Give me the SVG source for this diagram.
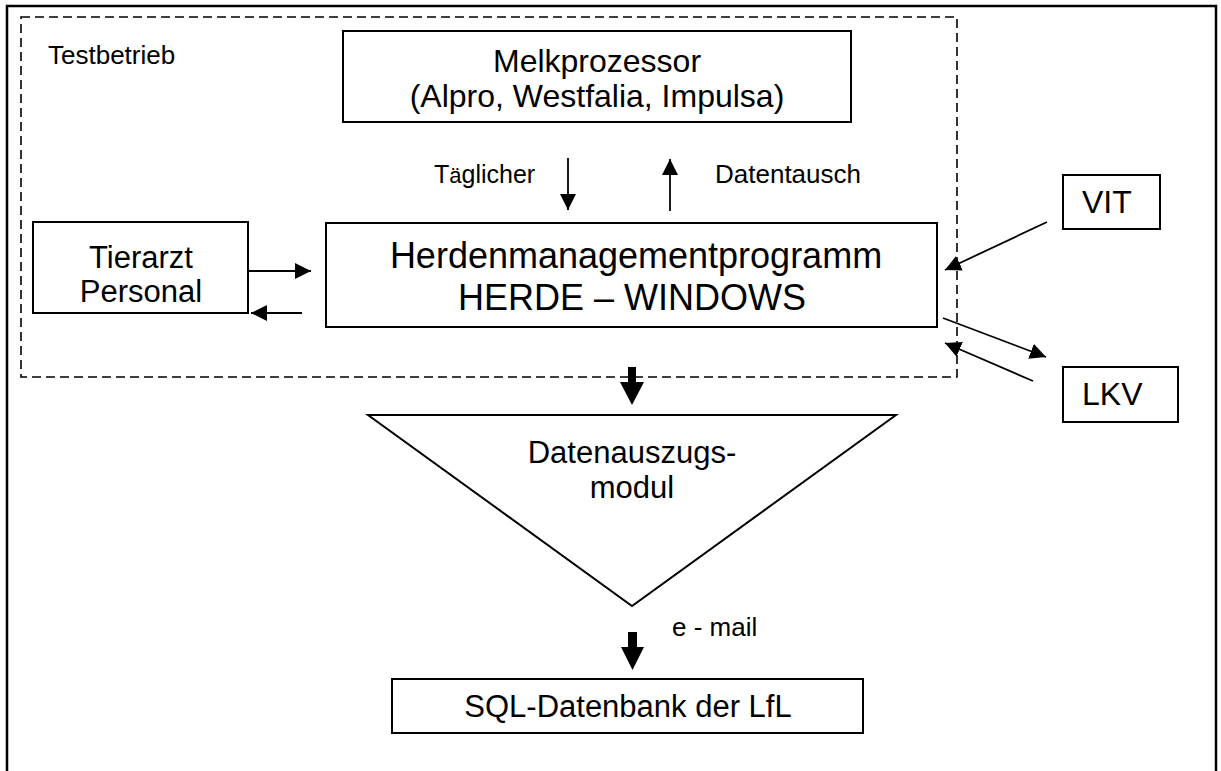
<svg xmlns="http://www.w3.org/2000/svg" width="1221" height="771" viewBox="0 0 1221 771">
  <style>
    .box { fill: #fff; stroke: #000; stroke-width: 2; }
    .frame { fill: none; stroke: #000; stroke-width: 2.5; }
    .zone { fill: none; stroke: #000; stroke-width: 1.6; stroke-dasharray: 9 5; }
    .line { fill: none; stroke: #000; stroke-width: 1.8; marker-end: url(#head); }
    .block { fill: #000; }
    text { font-family: "Liberation Sans", Arial, sans-serif; fill: #000; }
    .big { font-size: 36px; }
    .mid { font-size: 31px; }
    .small { font-size: 26px; }
    .c { text-anchor: middle; }
  </style>
  <defs>
    <marker id="head" viewBox="0 0 16 16" refX="16" refY="8" markerWidth="16" markerHeight="16" markerUnits="userSpaceOnUse" orient="auto">
      <path d="M0,0 L16,8 L0,16 z" fill="#000"/>
    </marker>
  </defs>

  <rect width="1221" height="771" fill="#fff"/>

  <!-- page frame (open at the bottom) -->
  <path class="frame" d="M7,790 V6 H1216 V790"/>

  <!-- farm boundary -->
  <g id="testbetrieb">
    <rect class="zone" x="21" y="17" width="936" height="360"/>
    <text class="small" x="48" y="64">Testbetrieb</text>
  </g>

  <g id="melkprozessor">
    <rect class="box" x="343" y="31" width="508" height="91"/>
    <text class="mid c" x="597" y="72" style="font-size:32px">Melkprozessor</text>
    <text class="mid c" x="597" y="107" style="font-size:32px">(Alpro, Westfalia, Impulsa)</text>
  </g>

  <g id="herde">
    <rect class="box" x="326" y="223" width="611" height="104"/>
    <text class="big c" x="636" y="268">Herdenmanagementprogramm</text>
    <text class="big c" x="632" y="310">HERDE – WINDOWS</text>
  </g>

  <g id="tierarzt">
    <rect class="box" x="33" y="222" width="215" height="91"/>
    <text class="mid c" x="141" y="268">Tierarzt</text>
    <text class="mid c" x="141" y="302">Personal</text>
  </g>

  <g id="vit">
    <rect class="box" x="1063" y="175" width="97" height="54"/>
    <text class="mid" x="1082" y="213" style="font-size:32px">VIT</text>
  </g>

  <g id="lkv">
    <rect class="box" x="1063" y="367" width="115" height="55"/>
    <text class="mid" x="1082" y="405" style="font-size:32px">LKV</text>
  </g>

  <g id="datenauszug">
    <path class="box" d="M368,415 H896 L632,606 Z"/>
    <text class="mid c" x="632" y="463">Datenauszugs-</text>
    <text class="mid c" x="632" y="498">modul</text>
  </g>

  <g id="sql">
    <rect class="box" x="392" y="679" width="471" height="54"/>
    <text class="mid c" x="628" y="717">SQL-Datenbank der LfL</text>
  </g>

  <!-- connectors and their labels -->
  <g id="connectors">
    <line class="line" x1="568" y1="158" x2="568" y2="210"/>
    <line class="line" x1="670" y1="211" x2="670" y2="159"/>
    <text class="small" x="434" y="183" style="font-size:25px">T<tspan style="font-size:22px">ä</tspan>glicher</text>
    <text class="small" x="715" y="183">Datentausch</text>

    <line class="line" x1="248" y1="271" x2="311" y2="271"/>
    <line class="line" x1="302" y1="313" x2="251" y2="313"/>

    <line class="line" x1="1047" y1="222" x2="945" y2="270"/>
    <line class="line" x1="943" y1="318" x2="1046" y2="357"/>
    <line class="line" x1="1033" y1="381" x2="945" y2="343"/>

    <path class="block" d="M628,367 H636 V382 H644 L632,405 L620,382 H628 Z"/>
    <path class="block" d="M628,632 H637 V647 H644 L632.5,670 L621,647 H628 Z"/>
    <text class="small" x="672" y="636">e - mail</text>
  </g>
</svg>
